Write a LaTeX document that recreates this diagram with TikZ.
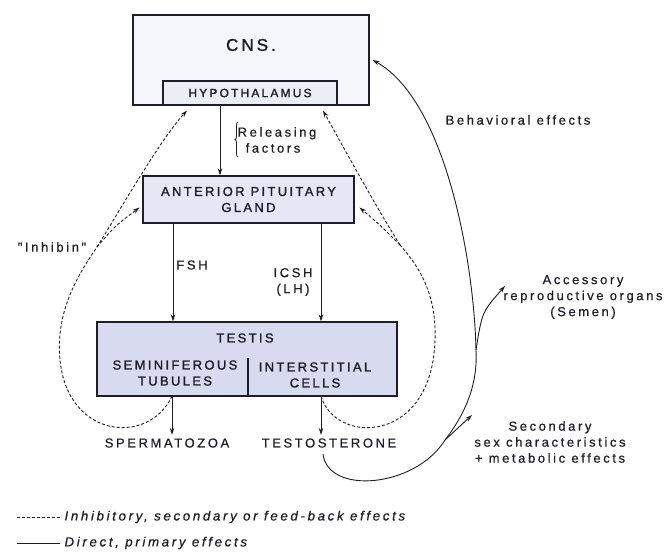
\documentclass[tikz,border=0pt]{standalone}
\usepackage{fontspec}
\setsansfont{Liberation Sans}
\newfontfamily\lettrage{Liberation Sans}[LetterSpace=20,FakeBold=0.6]
\newfontfamily\lettrgras{Liberation Sans}[LetterSpace=18,FakeBold=1.4]
\usepackage{tikz}
\usetikzlibrary{arrows.meta,positioning,calc,decorations.pathreplacing}
\definecolor{encre}{HTML}{1E1E28}
\definecolor{lavis}{HTML}{A8B0DC}

\begin{document}
\begin{tikzpicture}[x=1pt,y=-1pt,
  boite/.style={draw=encre,line width=1.1pt,inner sep=0pt},
  etiq/.style={font=\lettrage\fontsize{13}{16}\selectfont,text=encre,align=center},
  titre/.style={font=\lettrgras\fontsize{13}{16}\selectfont,text=encre,align=center},
  legende/.style={font=\lettrage\itshape\fontsize{13.3}{16}\selectfont,text=encre,anchor=west},
  direct/.style={encre,line width=0.9pt,-{Stealth[length=7pt,width=4.5pt]}},
  retro/.style={direct,dash pattern=on 3pt off 2pt}]

  \useasboundingbox (0,0) rectangle (667,554);

  % Boîtes
  \node[boite,fill=lavis!12,minimum width=236,minimum height=90] (cns) at (251,60) {};
  \node[titre,font=\lettrgras\fontsize{17}{20}\selectfont] (cnslab) at (251,45) {CNS.};
  \node[boite,fill=lavis!22,minimum width=174,minimum height=24,titre,
        font=\lettrgras\fontsize{12}{14}\selectfont] (hypo) at (250,93) {HYPOTHALAMUS};
  \node[boite,fill=lavis!30,minimum width=211,minimum height=47,titre] (ap) at (248.5,199.5)
       {ANTERIOR PITUITARY\\GLAND};
  \node[boite,fill=lavis!45,minimum width=300,minimum height=74] (testis) at (247,359) {};
  \node[titre] (testislab) at (245,338) {TESTIS};
  \node[titre] (semi) at (175,373) {SEMINIFEROUS\\TUBULES};
  \node[titre] (inter) at (315,375) {INTERSTITIAL\\CELLS};
  \draw[encre,line width=1.1pt] (248,358) -- (248,396);

  % Produits
  \node[etiq] (sperma) at (167,443) {SPERMATOZOA};
  \node[etiq] (testo) at (329,443) {TESTOSTERONE};

  % Libellés
  \node[etiq,align=left] (releasing) at (277,140) {Releasing\\\hspace*{8pt}factors};
  \node[etiq] (fsh) at (192,265) {FSH};
  \node[etiq] (icsh) at (293,282) {ICSH\\(LH)};
  \node[etiq] (inhib) at (52,247) {"Inhibin"};
  \node[etiq] (lbehav) at (518,120) {Behavioral effects};
  \node[etiq] (lacc) at (583,297) {Accessory\\reproductive organs\\(Semen)};
  \node[etiq] (lsec) at (550,442) {Secondary\\sex characteristics\\+ metabolic effects};

  \draw[encre,line width=0.8pt,decorate,decoration={brace,amplitude=3pt}]
       (238,157) -- (238,122);

  % Effets directs
  \draw[direct] ([xshift=-30]hypo.south) -- ([xshift=-30]hypo.south |- ap.north);
  \draw[direct] ([xshift=-75.5]ap.south) -- ([xshift=-75.5]ap.south |- testis.north);
  \draw[direct] ([xshift=72.5]ap.south) -- ([xshift=72.5]ap.south |- testis.north);
  \coordinate (sortieS) at (172,396);
  \coordinate (sortieI) at (321,396);
  \draw[direct] (sortieS) -- (sortieS |- sperma.north);
  \draw[direct] (sortieI) -- (sortieI |- testo.north);

  % Testostérone -> effets
  \coordinate (brS) at (445,440);
  \coordinate (brA) at (476,350);
  \coordinate (pSec) at (472,415);
  \coordinate (pAcc) at (505,286);
  \draw[direct,-] ($(testo.south)+(-6,3)$) .. controls (328,495) and (415,488) .. (brS)
        .. controls (465,414) and (478,385) .. (brA);
  \draw[direct] (brA) .. controls (474,260) and (445,100) .. ($(cns.east)+(3,0)$);
  \draw[direct] (brS) -- (pSec);
  \draw[direct] (brA) .. controls (482,312) .. (pAcc);

  % Rétroactions
  \coordinate (brG) at (97,247);
  \draw[retro,-] (sortieS) .. controls (150,445) and (68,440) .. (60,360)
        .. controls (55,310) and (80,272) .. (brG);
  \draw[retro] (brG) .. controls (120,210) and (160,140) .. ($(hypo.south)+(-63,5)$);
  \draw[retro] (brG) .. controls (115,226) .. ($(ap.west)+(-3,8)$);

  \coordinate (brD) at (400,245);
  \draw[retro,-] (sortieI) .. controls (335,445) and (432,445) .. (435,340)
        .. controls (437,290) and (415,262) .. (brD);
  \draw[retro] (brD) .. controls (375,205) and (345,150) .. ($(hypo.south)+(73,5)$);
  \draw[retro] (brD) .. controls (380,225) .. ($(ap.east)+(5,8)$);

  % Légende
  \draw[encre,line width=0.9pt,dash pattern=on 3pt off 2pt] (17,517) -- (60,517);
  \node[legende] (lretro) at (61,517) {Inhibitory, secondary or feed-back effects};
  \draw[encre,line width=0.9pt] (17,543) -- (60,543);
  \node[legende] (ldirect) at (61,543) {Direct, primary effects};

\end{tikzpicture}
\end{document}
